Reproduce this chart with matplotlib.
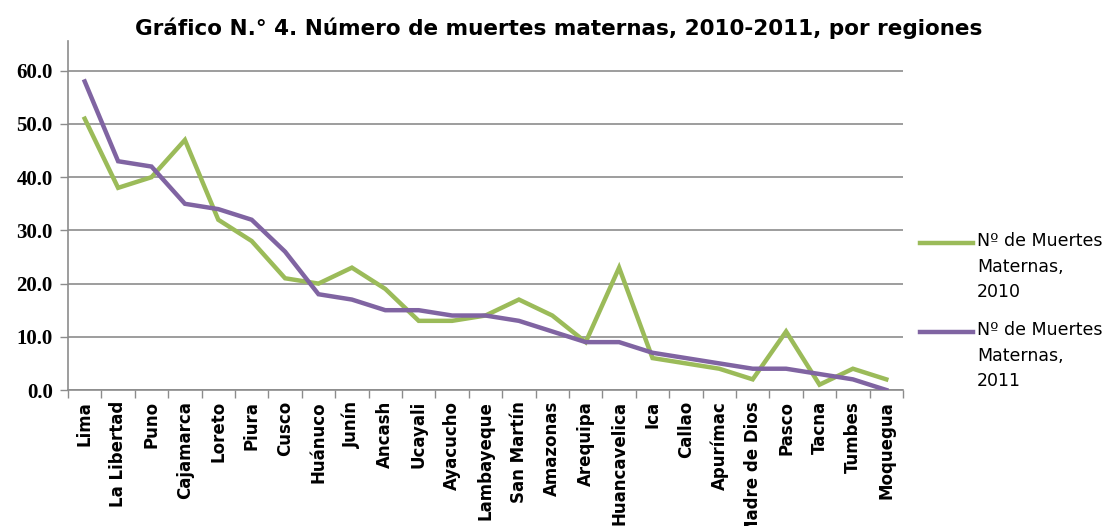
import matplotlib.pyplot as plt
from matplotlib.lines import Line2D
import numpy as np

regions = ['Lima', 'La Libertad', 'Puno', 'Cajamarca', 'Loreto', 'Piura', 'Cusco',
           'Huánuco', 'Junín', 'Ancash', 'Ucayali', 'Ayacucho', 'Lambayeque',
           'San Martín', 'Amazonas', 'Arequipa', 'Huancavelica', 'Ica', 'Callao',
           'Apurímac', 'Madre de Dios', 'Pasco', 'Tacna', 'Tumbes', 'Moquegua']
deaths_2010 = [51, 38, 40, 47, 32, 28, 21, 20, 23, 19, 13, 13, 14, 17, 14, 9, 23, 6, 5, 4, 2, 11, 1, 4, 2]
deaths_2011 = [58, 43, 42, 35, 34, 32, 26, 18, 17, 15, 15, 14, 14, 13, 11, 9, 9, 7, 6, 5, 4, 4, 3, 2, 0]
labels = ['Nº de Muertes\nMaternas,\n2010', 'Nº de Muertes\nMaternas,\n2011']
yticks = [0, 10, 20, 30, 40, 50, 60]

green = '#9BBB59'
purple = '#8064A2'

fig = plt.figure(figsize=(11.05, 5.26), dpi=100)
ax = fig.add_axes([68 / 1105, 1 - 390 / 526, (903 - 68) / 1105, (390 - 41) / 526])

x = np.arange(len(regions))
ax.plot(x, deaths_2010, color=green, lw=3.2, solid_joinstyle='miter', zorder=3)
ax.plot(x, deaths_2011, color=purple, lw=3.2, solid_joinstyle='miter', zorder=3)

ax.set_xlim(-0.5, len(regions) - 0.5)
ax.set_ylim(0, 65.6)
ax.set_yticks(yticks)
ax.set_yticklabels([f'{v:.1f}' for v in yticks], family='Liberation Serif',
                   fontsize=15, fontweight='bold')
ax.grid(axis='y', color='#8c8c8c', lw=1.2)
ax.set_axisbelow(True)

ax.set_xticks(x)
ax.set_xticklabels(regions, rotation=90, fontsize=12, fontweight='bold')
ax.set_xticks(np.arange(-0.5, len(regions)), minor=True)
ax.tick_params(axis='x', which='major', length=0, pad=8)
ax.tick_params(axis='x', which='minor', length=6, color='#8c8c8c', width=1)
ax.tick_params(axis='y', length=6, color='#8c8c8c', width=1, pad=5)

for s in ['top', 'right']:
    ax.spines[s].set_visible(False)
for s in ['left', 'bottom']:
    ax.spines[s].set_color('#8c8c8c')
    ax.spines[s].set_linewidth(1.2)

fig.text(559 / 1105, 1 - 28 / 526, 'Gráfico N.° 4. Número de muertes maternas, 2010-2011, por regiones',
         ha='center', va='center', fontsize=15.5, fontweight='bold')

# legend drawn by hand so the line sits at the first text row
for ly, lab, col in [(243, labels[0], green), (332, labels[1], purple)]:
    fy = 1 - ly / 526
    fig.add_artist(Line2D([920 / 1105, 973 / 1105], [fy, fy], color=col, lw=3.2,
                          transform=fig.transFigure))
    fig.text(977 / 1105, fy + 11 / 526, lab, ha='left', va='top', fontsize=12.5,
             linespacing=1.55)

fig.savefig('out.png', dpi=100)
